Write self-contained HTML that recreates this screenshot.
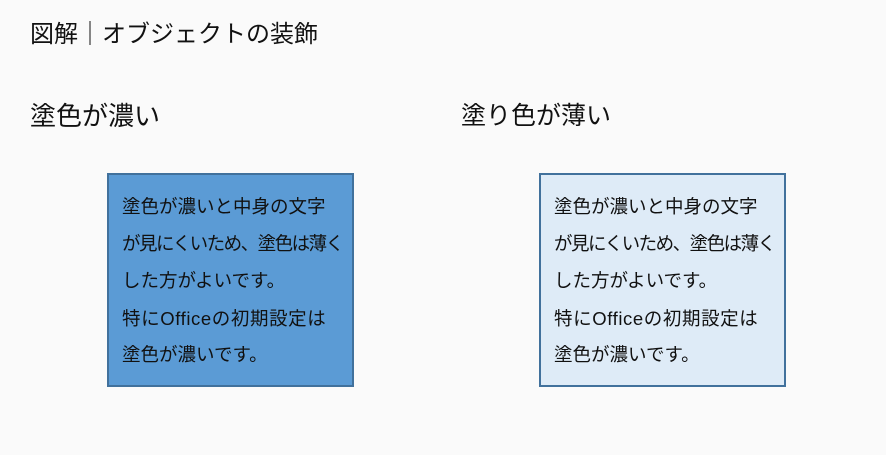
<!DOCTYPE html>
<html><head><meta charset="utf-8"><style>
body{margin:0;width:886px;height:455px;background:#fafafa;font-family:"Liberation Sans","Noto Sans CJK JP",sans-serif;color:#111;position:relative;overflow:hidden}
.t{position:absolute;white-space:nowrap}
.box{position:absolute;top:173px;width:243px;height:210px;border:2px solid #41719c;box-sizing:content-box}
.box div{position:absolute;left:13px;font-size:18.5px;line-height:22px;white-space:nowrap}
.box .l2{letter-spacing:-1.5px}
.box .l4{letter-spacing:0.6px}
</style></head><body>
<div class="t" style="left:30px;top:20px;font-size:24px;line-height:30px">図解｜オブジェクトの装飾</div>
<div class="t" style="left:30px;top:101px;font-size:26px;line-height:30px">塗色が濃い</div>
<div class="t" style="left:461px;top:101px;font-size:25px;line-height:30px">塗り色が薄い</div>
<div class="box" style="left:107px;background:#5b9bd5">
<div style="top:21px">塗色が濃いと中身の文字</div>
<div class="l2" style="top:58px">が見にくいため、塗色は薄く</div>
<div style="top:95px">した方がよいです。</div>
<div class="l4" style="top:133px">特にOfficeの初期設定は</div>
<div style="top:169px">塗色が濃いです。</div>
</div>
<div class="box" style="left:539px;background:#deebf7">
<div style="top:21px">塗色が濃いと中身の文字</div>
<div class="l2" style="top:58px">が見にくいため、塗色は薄く</div>
<div style="top:95px">した方がよいです。</div>
<div class="l4" style="top:133px">特にOfficeの初期設定は</div>
<div style="top:169px">塗色が濃いです。</div>
</div>
</body></html>
